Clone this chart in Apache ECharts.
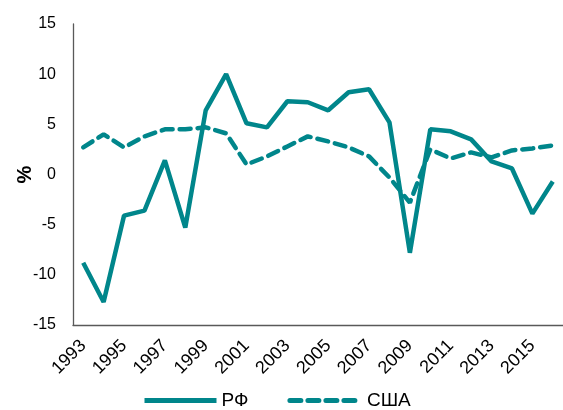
<!DOCTYPE html>
<html>
<head>
<meta charset="utf-8">
<script src="https://cdn.jsdelivr.net/npm/echarts@6/dist/echarts.min.js"></script>
<style>
  html, body { margin: 0; padding: 0; background: #fff; }
  #chart { width: 563px; height: 410px; }
</style>
</head>
<body>
<div id="chart"></div>
<script>
const years = ['1993', '1994', '1995', '1996', '1997', '1998', '1999', '2000', '2001', '2002', '2003', '2004',
  '2005', '2006', '2007', '2008', '2009', '2010', '2011', '2012', '2013', '2014', '2015', '2016'];
const rf = [-8.8, -12.7, -4.1, -3.6, 1.4, -5.3, 6.4, 10.0, 5.1, 4.7, 7.3, 7.2,
  6.4, 8.2, 8.5, 5.2, -7.8, 4.5, 4.3, 3.5, 1.3, 0.6, -3.9, -0.7];
const usa = [2.7, 4.0, 2.7, 3.8, 4.5, 4.5, 4.7, 4.1, 1.0, 1.8, 2.8, 3.8,
  3.3, 2.7, 1.8, -0.3, -2.8, 2.5, 1.6, 2.2, 1.7, 2.4, 2.6, 2.9];

const teal = '#00868B';
const font = 'Liberation Sans, Arial, sans-serif';

const chart = echarts.init(document.getElementById('chart'));

chart.setOption({
  animation: false,
  textStyle: { fontFamily: font },
  grid: {
    left: 73,
    right: -4,
    top: 24,
    bottom: 85,
    containLabel: false
  },
  legend: {
    top: 386,
    left: 137,
    itemWidth: 72,
    itemHeight: 14,
    itemGap: 39,
    itemStyle: { opacity: 0 },
    lineStyle: { width: 5 },
    textStyle: { fontSize: 19, color: '#000', fontFamily: font },
    data: [
      { name: 'РФ' },
      { name: 'США' }
    ]
  },
  xAxis: {
    type: 'category',
    data: years,
    boundaryGap: true,
    axisLine: { onZero: false, lineStyle: { color: '#595959', width: 1.3 } },
    axisTick: { show: false },
    axisLabel: {
      interval: 1,
      rotate: 45,
      fontSize: 18,
      color: '#000',
      margin: 18
    }
  },
  yAxis: {
    type: 'value',
    min: -15,
    max: 15,
    interval: 5,
    name: '%',
    nameLocation: 'middle',
    nameGap: 38,
    nameMoveOverlap: false,
    nameRotate: 90,
    nameTextStyle: { fontSize: 20, fontWeight: 'bold', color: '#000' },
    axisLine: { show: true, lineStyle: { color: '#595959', width: 1.3 } },
    axisTick: { show: false },
    splitLine: { show: false },
    axisLabel: { fontSize: 16, color: '#000', margin: 17 }
  },
  series: [
    {
      name: 'РФ',
      type: 'line',
      data: rf,
      symbol: 'none',
      lineStyle: { color: teal, width: 4.5 },
      itemStyle: { color: teal }
    },
    {
      name: 'США',
      type: 'line',
      data: usa,
      symbol: 'none',
      lineStyle: { color: teal, width: 4.5, type: [11, 7], cap: 'round' },
      itemStyle: { color: teal }
    }
  ]
});
</script>
</body>
</html>
